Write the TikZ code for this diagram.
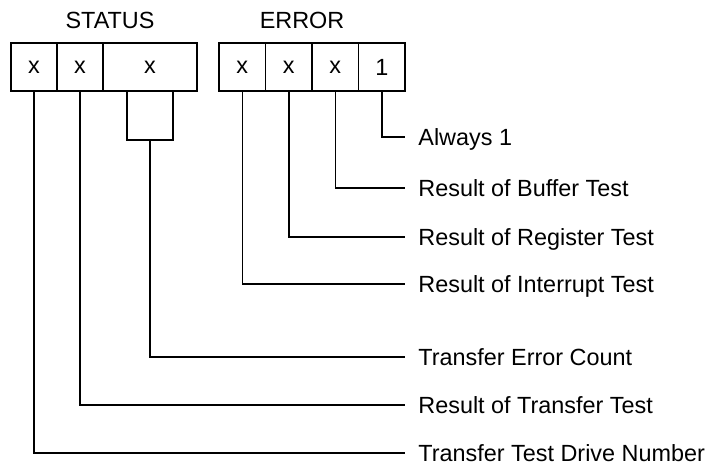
\documentclass[tikz,border=0pt]{standalone}
\usepackage{fontspec}
\setmainfont{Liberation Sans}
\usetikzlibrary{positioning}
\tikzset{
  cell/.style={draw,line width=0.75pt,minimum width=23.25pt,minimum height=24pt,
    inner sep=0pt,font=\fontsize{11.7}{14}\selectfont},
  title/.style={font=\fontsize{11.7}{14}\selectfont},
  desc/.style={anchor=west,inner xsep=6.5pt,inner ysep=0pt,text height=8.4pt,
    text depth=0pt,font=\fontsize{11.7}{14}\selectfont},
  wire/.style={line width=0.75pt},
}
\begin{document}
\begin{tikzpicture}[x=0.5pt,y=-0.5pt]
    \useasboundingbox (0,0) rectangle (710,465);
    % register titles
    \node[title] (stat) at (110,20) {STATUS};
    \node[title] (err)  at (302,20) {ERROR};
    % STATUS cells
    \node[cell] (s1) at (34,67)  {x};
    \node[cell] (s2) at (80,67)  {x};
    \node[cell,minimum width=47pt] (s3) at (150,67) {x};
    % ERROR cells
    \node[cell] (e1) at (242.25,67) {x};
    \node[cell] (e2) at (288.75,67) {x};
    \node[cell] (e3) at (335.25,67) {x};
    \node[cell] (e4) at (381.75,67) {1};
    % descriptions
    \node[desc] (d1) at (405,137) {Always 1};
    \node[desc] (d2) at (405,188) {Result of Buffer Test};
    \node[desc] (d3) at (405,237) {Result of Register Test};
    \node[desc] (d4) at (405,284) {Result of Interrupt Test};
    \node[desc] (d5) at (405,357) {Transfer Error Count};
    \node[desc] (d6) at (405,405) {Result of Transfer Test};
    \node[desc] (d7) at (405,453) {Transfer Test Drive Number};
    % bracket under the wide field
    \coordinate (brk) at (150,140);
    \draw[wire] (127,91) -- (127,140) -- (173,140) -- (173,91);
    % leaders
    \draw[wire] (e4.south) |- (d1.west);
    \draw[wire] (e3.south) |- (d2.west);
    \draw[wire] (e2.south) |- (d3.west);
    \draw[wire] (e1.south) |- (d4.west);
    \draw[wire] (brk) |- (d5.west);
    \draw[wire] (s2.south) |- (d6.west);
    \draw[wire] (s1.south) |- (d7.west);
  \end{tikzpicture}
\end{document}
